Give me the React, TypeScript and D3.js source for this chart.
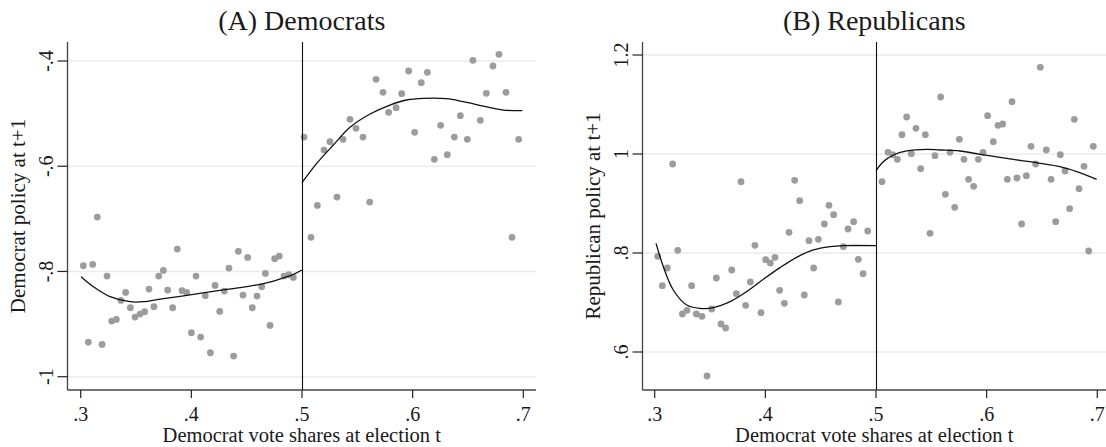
import React from "react";
import * as d3 from "d3";

// Binned means of next-term policy, by Democrat vote share at election t.
const demBelow: [number, number][] = [
  [0.3024, -0.7891], [0.3069, -0.9342], [0.3108, -0.7866], [0.315, -0.6966], [0.3193, -0.9387],
  [0.3238, -0.8087], [0.328, -0.8943], [0.3322, -0.8911], [0.3364, -0.855], [0.3406, -0.8398],
  [0.3449, -0.869], [0.3491, -0.8867], [0.3536, -0.881], [0.3578, -0.8766], [0.3617, -0.8335],
  [0.3662, -0.867], [0.3705, -0.8087], [0.3747, -0.798], [0.3786, -0.8354], [0.3831, -0.869],
  [0.3873, -0.7574], [0.3916, -0.8366], [0.3958, -0.8398], [0.4, -0.9165], [0.4042, -0.8087],
  [0.4084, -0.9247], [0.4126, -0.8461], [0.4172, -0.9545], [0.4214, -0.8265], [0.4256, -0.8759],
  [0.4298, -0.8373], [0.434, -0.7935], [0.4382, -0.9608], [0.4425, -0.7618], [0.4467, -0.8449],
  [0.4509, -0.7733], [0.4551, -0.869], [0.4593, -0.8468], [0.4636, -0.829], [0.4669, -0.8037],
  [0.4711, -0.9025], [0.4753, -0.7758], [0.4795, -0.7707], [0.4837, -0.8087], [0.488, -0.8062],
  [0.4922, -0.8113],
];

const demAbove: [number, number][] = [
  [0.5018, -0.5445], [0.5081, -0.7352], [0.5139, -0.6744], [0.5199, -0.5692], [0.5253, -0.5534],
  [0.5316, -0.6586], [0.5371, -0.5489], [0.5434, -0.5109], [0.5488, -0.528], [0.5551, -0.5445],
  [0.5612, -0.6681], [0.5669, -0.4349], [0.5732, -0.4596], [0.5783, -0.4976], [0.585, -0.4887],
  [0.5901, -0.4621], [0.5964, -0.419], [0.6018, -0.5356], [0.6078, -0.4412], [0.6133, -0.4215],
  [0.6196, -0.5869], [0.6253, -0.5223], [0.6313, -0.5781], [0.6377, -0.5445], [0.6431, -0.5039],
  [0.6494, -0.5489], [0.6545, -0.3987], [0.6612, -0.5128], [0.6666, -0.4615], [0.6726, -0.4095],
  [0.678, -0.3873], [0.6844, -0.4596], [0.6898, -0.7352], [0.6958, -0.5489],
];

const demFitBelow: [number, number][] = [
  [0.3003, -0.81], [0.3114, -0.829], [0.3265, -0.848], [0.3446, -0.8575], [0.3566, -0.8575],
  [0.3717, -0.8525], [0.4018, -0.8436], [0.4319, -0.8341], [0.462, -0.8246], [0.4771, -0.8163],
  [0.4922, -0.8056], [0.5, -0.7973],
];

const demFitAbove: [number, number][] = [
  [0.5, -0.6313], [0.5133, -0.5946], [0.5283, -0.5597], [0.5434, -0.5261], [0.5615, -0.5008],
  [0.5795, -0.4837], [0.5946, -0.4741], [0.6097, -0.471], [0.6307, -0.4716], [0.6458, -0.4773],
  [0.6639, -0.4856], [0.682, -0.4932], [0.6991, -0.4944],
];

const repBelow: [number, number][] = [
  [0.3027, 0.7933], [0.3069, 0.734], [0.3114, 0.7697], [0.3162, 0.9798], [0.3208, 0.8054],
  [0.325, 0.6768], [0.3292, 0.6842], [0.3334, 0.734], [0.3376, 0.6768], [0.3427, 0.6721],
  [0.3473, 0.5515], [0.3515, 0.6869], [0.3557, 0.7495], [0.3599, 0.6566], [0.3641, 0.6485],
  [0.3696, 0.7657], [0.3738, 0.7178], [0.378, 0.9441], [0.3822, 0.6943], [0.3864, 0.7414],
  [0.3906, 0.8155], [0.3961, 0.6795], [0.4003, 0.7865], [0.4045, 0.7798], [0.4087, 0.7913],
  [0.4129, 0.7246], [0.4172, 0.6983], [0.4214, 0.8418], [0.4265, 0.9468], [0.431, 0.9057],
  [0.4352, 0.7152], [0.4394, 0.8249], [0.4437, 0.7697], [0.4479, 0.8276], [0.4533, 0.8586],
  [0.4575, 0.8963], [0.4617, 0.8774], [0.466, 0.701], [0.4705, 0.8128], [0.4747, 0.8485],
  [0.4798, 0.8633], [0.484, 0.7872], [0.4883, 0.7582], [0.4925, 0.8444],
];

const repAbove: [number, number][] = [
  [0.5054, 0.9441], [0.5108, 1.0034], [0.5151, 0.9987], [0.5193, 0.9892], [0.5235, 1.0391],
  [0.5277, 1.0747], [0.5319, 1.0007], [0.5361, 1.0519], [0.5404, 0.9704], [0.5446, 1.0391],
  [0.5488, 0.8397], [0.5533, 0.9966], [0.5584, 1.1152], [0.5627, 0.9185], [0.5669, 1.0034],
  [0.5711, 0.8923], [0.5753, 1.0296], [0.5795, 0.9892], [0.5837, 0.9488], [0.5883, 0.9347],
  [0.5925, 0.9892], [0.5967, 1.0034], [0.6009, 1.0774], [0.606, 1.0249], [0.6103, 1.0579],
  [0.6145, 1.0606], [0.6187, 0.9488], [0.6229, 1.1057], [0.6274, 0.9515], [0.6316, 0.8586],
  [0.6359, 0.9562], [0.6401, 1.0155], [0.6443, 0.9798], [0.6485, 1.1751], [0.6539, 1.0081],
  [0.6582, 0.9488], [0.6624, 0.8633], [0.6666, 0.9987], [0.6708, 0.9657], [0.675, 0.8896],
  [0.6792, 1.07], [0.6835, 0.93], [0.688, 0.9751], [0.6922, 0.804], [0.6964, 1.0155],
];

const repFitBelow: [number, number][] = [
  [0.3012, 0.8195], [0.3078, 0.7724], [0.3168, 0.7253], [0.3289, 0.6949], [0.3409, 0.6882],
  [0.353, 0.6896], [0.3681, 0.7017], [0.3831, 0.7219], [0.3982, 0.7468], [0.4132, 0.7704],
  [0.4283, 0.7913], [0.4434, 0.8061], [0.4584, 0.8128], [0.4705, 0.8148], [0.5, 0.8148],
];

const repFitAbove: [number, number][] = [
  [0.5, 0.9663], [0.5066, 0.9845], [0.5157, 0.998], [0.5277, 1.0061], [0.5458, 1.0094],
  [0.5578, 1.0081], [0.5759, 1.0061], [0.594, 0.9993], [0.6121, 0.9933], [0.6301, 0.9872],
  [0.6482, 0.9812], [0.6663, 0.9744], [0.6814, 0.9643], [0.6994, 0.9488],
];

const xTicks = [0.3, 0.4, 0.5, 0.6, 0.7];
const demYTicks = [-1, -0.8, -0.6, -0.4];
const repYTicks = [0.6, 0.8, 1, 1.2];
const xTitle = "Democrat vote shares at election t";

const FONT = "'Liberation Serif', 'Times New Roman', serif";
const INK = "#1a1a1a";
const GRID = "#e6eef0";
const DOT = "#9c9c9c";

const fmt = (v: number) => {
  const s = String(+v.toFixed(2));
  return s.replace(/^(-?)0\./, "$1.");
};

type PanelProps = {
  title: string;
  yTitle: string;
  below: [number, number][];
  above: [number, number][];
  fitBelow: [number, number][];
  fitAbove: [number, number][];
  yTicks: number[];
  left: number;
  right: number;
  xRange: [number, number];
  yDomain: [number, number];
  yRange: [number, number];
  yTitleX: number;
  yLabelX: number;
};

const TOP = 42;
const BOTTOM = 390;

function Panel(p: PanelProps) {
  const x = d3.scaleLinear().domain([0.3, 0.7]).range(p.xRange);
  const y = d3.scaleLinear().domain(p.yDomain).range(p.yRange);
  const line = d3
    .line<[number, number]>()
    .x((d) => x(d[0]))
    .y((d) => y(d[1]))
    .curve(d3.curveCatmullRom.alpha(0.5));
  const cx = (p.left + p.right) / 2;
  const midY = (TOP + BOTTOM) / 2;
  const cut = Math.round(x(0.5)) + 0.5;

  return (
    <g>
      <text x={cx} y={30} textAnchor="middle" fontFamily={FONT} fontSize={28} fill={INK}>
        {p.title}
      </text>

      {p.yTicks.map((t) => (
        <line key={"g" + t} x1={p.left} x2={p.right} y1={y(t)} y2={y(t)} stroke={GRID} strokeWidth={1.6} />
      ))}

      {p.below.concat(p.above).map((d, i) => (
        <circle key={i} cx={x(d[0])} cy={y(d[1])} r={3.4} fill={DOT} />
      ))}

      <path d={line(p.fitBelow) || ""} fill="none" stroke="#111" strokeWidth={1.3} />
      <path d={line(p.fitAbove) || ""} fill="none" stroke="#111" strokeWidth={1.3} />

      <line x1={cut} x2={cut} y1={TOP} y2={BOTTOM} stroke="#111" strokeWidth={1.1} />

      {/* axes */}
      <line x1={p.left} x2={p.left} y1={TOP} y2={BOTTOM} stroke="#444" strokeWidth={1.3} />
      <line x1={p.left} x2={p.right} y1={BOTTOM} y2={BOTTOM} stroke="#444" strokeWidth={1.3} />

      {p.yTicks.map((t) => (
        <g key={"y" + t}>
          <line x1={p.left - 10} x2={p.left} y1={y(t)} y2={y(t)} stroke="#222" strokeWidth={1.2} />
          <text
            transform={`translate(${p.yLabelX},${y(t)}) rotate(-90)`}
            textAnchor="middle"
            fontFamily={FONT}
            fontSize={20}
            fill={INK}
          >
            {fmt(t)}
          </text>
        </g>
      ))}

      {xTicks.map((t) => (
        <g key={"x" + t}>
          <line x1={x(t)} x2={x(t)} y1={BOTTOM} y2={BOTTOM + 8} stroke="#222" strokeWidth={1.2} />
          <text x={x(t)} y={421} textAnchor="middle" fontFamily={FONT} fontSize={20} fill={INK}>
            {fmt(t)}
          </text>
        </g>
      ))}

      <text x={cx} y={441.5} textAnchor="middle" fontFamily={FONT} fontSize={20.5} fill={INK}>
        {xTitle}
      </text>
      <text
        transform={`translate(${p.yTitleX},${midY}) rotate(-90)`}
        textAnchor="middle"
        fontFamily={FONT}
        fontSize={21}
        fill={INK}
      >
        {p.yTitle}
      </text>
    </g>
  );
}

export default function App() {
  return (
    <svg
      width={1106}
      height={447}
      viewBox="0 0 1106 447"
      style={{ position: "absolute", left: 0, top: 0, background: "#fff" }}
    >
      <rect width={1106} height={447} fill="#fff" />
      <Panel
        title="(A) Democrats"
        yTitle="Democrat policy at t+1"
        below={demBelow}
        above={demAbove}
        fitBelow={demFitBelow}
        fitAbove={demFitAbove}
        yTicks={demYTicks}
        left={67.5}
        right={536}
        xRange={[80.7, 523.3]}
        yDomain={[-1, -0.4]}
        yRange={[376.7, 61]}
        yTitleX={25}
        yLabelX={53}
      />
      <Panel
        title="(B) Republicans"
        yTitle="Republican policy at t+1"
        below={repBelow}
        above={repAbove}
        fitBelow={repFitBelow}
        fitAbove={repFitAbove}
        yTicks={repYTicks}
        left={642.5}
        right={1106}
        xRange={[654.7, 1097.3]}
        yDomain={[0.6, 1.2]}
        yRange={[352, 55]}
        yTitleX={600}
        yLabelX={628}
      />
    </svg>
  );
}
